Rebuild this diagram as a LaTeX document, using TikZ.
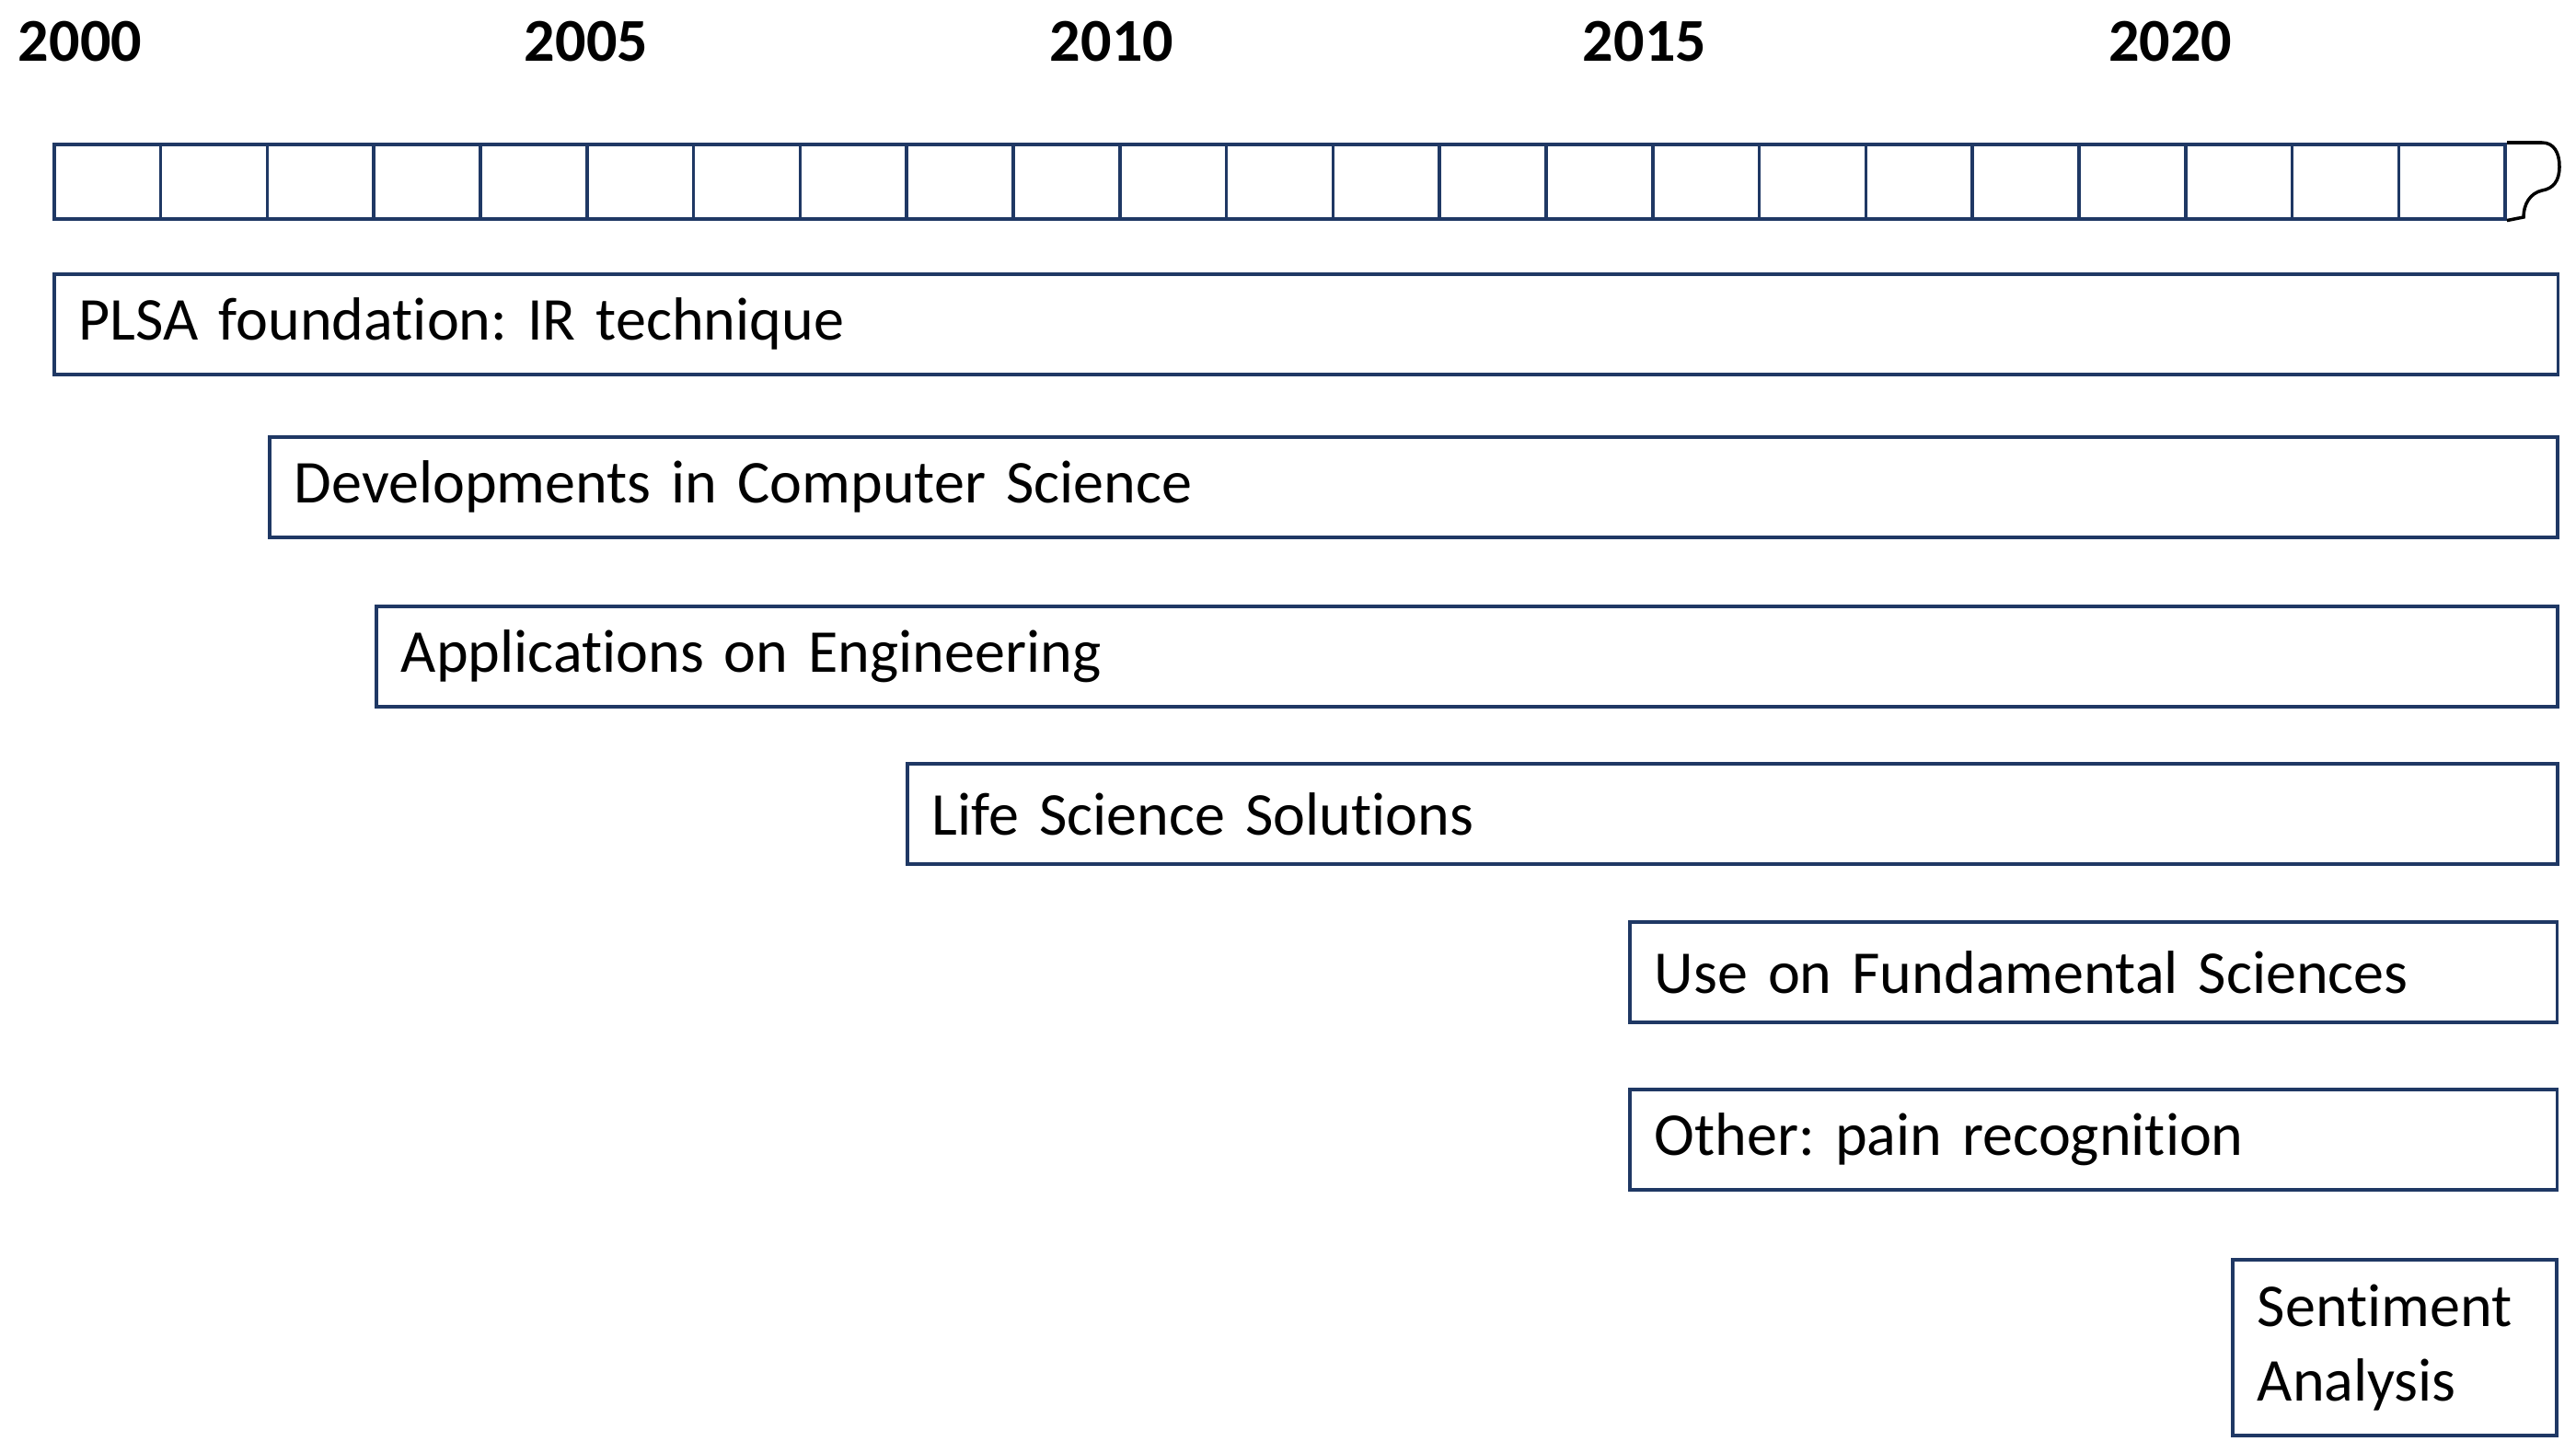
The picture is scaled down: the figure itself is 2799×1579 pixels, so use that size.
\documentclass[tikz,border=0pt]{standalone}
\usepackage{fontspec}
\setmainfont[Ligatures=NoCommon]{Carlito}
\frenchspacing
\definecolor{boxblue}{RGB}{31,56,100}
\tikzset{
  yearcell/.style={rectangle, draw=boxblue, line width=1pt, anchor=north west, minimum width=1.158cm, minimum height=0.81cm, inner sep=0pt},
  phase/.style={rectangle, draw=boxblue, line width=1pt, anchor=north west, minimum height=1.09cm, inner xsep=0.27cm, align=left, font=\fontsize{18.8}{23}\selectfont},
  yearlabel/.style={font=\fontsize{18.8}{23}\selectfont\bfseries}
}
\begin{document}
\begin{tikzpicture}[x=0.01cm, y=-0.01cm]
  \useasboundingbox (0,0) rectangle (2799,1579);
  % Year labels
  \node (y2000) [yearlabel] at (87, 45) {2000};
  \node (y2005) [yearlabel] at (637, 45) {2005};
  \node (y2010) [yearlabel] at (1208, 45) {2010};
  \node (y2015) [yearlabel] at (1787, 45) {2015};
  \node (y2020) [yearlabel] at (2358, 45) {2020};
  % Timeline
  \foreach \i in {0,...,22}
    \node (cell\i) [yearcell] at ({57+115.8*\i}, 155) {};
  \draw[line width=1pt] (cell22.north east) -- (2762,155)
    .. controls (2775,155) and (2781,166) .. (2781,181)
    .. controls (2781,197) and (2774,205) .. (2762,207)
    .. controls (2749,210) and (2742,222) .. (2742,236)
    -- (cell22.south east);
  % Phases
  \node (plsa) [phase, text width=26.65cm] at (57, 296) {PLSA foundation: IR technique};
  \node (cs) [phase, text width=24.31cm] at (291, 473) {Developments in Computer Science};
  \node (eng) [phase, text width=23.15cm] at (407, 657) {Applications on Engineering};
  \node (life) [phase, text width=17.38cm] at (984, 828) {Life Science Solutions};
  \node (fund) [phase, text width=9.53cm] at (1769, 1000) {Use on Fundamental Sciences};
  \node (pain) [phase, text width=9.53cm] at (1769, 1182) {Other: pain recognition};
  \node (sent) [phase, text width=2.98cm, minimum height=1.91cm] at (2424, 1367) {Sentiment\\Analysis};
\end{tikzpicture}
\end{document}
